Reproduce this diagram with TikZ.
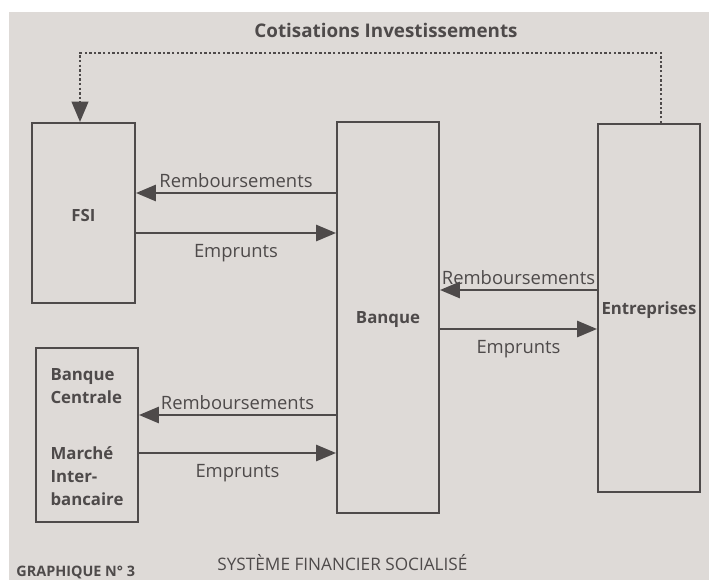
\documentclass[tikz,border=0pt]{standalone}
\usepackage{fontspec}
\setmainfont{Open Sans}
\usetikzlibrary{arrows,fit}
\definecolor{papier}{RGB}{222,218,215}
\definecolor{encre}{RGB}{78,74,74}
\tikzset{
  texte/.style = {text=encre, inner sep=2pt,
    font=\fontsize{9.2}{11}\selectfont},
  boite/.style = {draw=encre, line width=1.1pt, inner sep=0pt},% case du schema
  nom/.style = {text=encre, align=left, yshift=-1pt,
    font=\fontsize{8.4}{11.5}\selectfont\bfseries},% texte d'une case
  flux/.style = {draw=encre, line width=1.3pt},% fleche pleine
  cotis/.style = {draw=encre, line width=1.35pt,
    dash pattern=on 1.2pt off 1.1pt}% fleche pointillee
}

\begin{document}
\begin{tikzpicture}[->,>=triangle 45, x=0.5pt, y=-0.5pt]
\useasboundingbox (0,0) rectangle (709,580);
\fill[white] (0,0) rectangle (709,580);
\fill[papier] (9,12) rectangle (709,580);

% les cases
\node [boite, fit={(32,123) (135,303)},
  label={[nom]center:FSI}] (fsi) {};
\node [boite, fit={(337,122) (439,513)},
  label={[nom]center:Banque}] (banque) {};
\node [boite, fit={(598,124) (700,492)},
  label={[nom]center:Entreprises}] (entr) {};
\node [boite, fit={(36,348) (138,522)},
  label={[nom]center:Banque\\Centrale\\[16.5pt]Marché\\Inter-\\bancaire}] (bc) {};

% cotisations
\coordinate (cg) at (80,53);
\coordinate (cd) at (661,53);
\draw [cotis] (cd |- entr.north) -- (cd) -- (cg) -- (cg |- fsi.north);
\node [texte, font=\fontsize{9.4}{11}\selectfont\bfseries] (titre) at (386,30)
  {Cotisations Investissements};

% FSI <-> Banque
\draw [flux] (banque.west |- 0,193) -- (fsi.east |- 0,193)
  node [texte, midway, above] (r1) {Remboursements};
\draw [flux] (fsi.east |- 0,233) -- (banque.west |- 0,233)
  node [texte, midway, below=3pt] (e1) {Emprunts};

% Banque <-> Entreprises
\draw [flux] (entr.west |- 0,290) -- (banque.east |- 0,290)
  node [texte, midway, above] (r2) {Remboursements};
\draw [flux] (banque.east |- 0,329) -- (entr.west |- 0,329)
  node [texte, midway, below=3pt] (e2) {Emprunts};

% Banque Centrale <-> Banque
\draw [flux] (banque.west |- 0,415) -- (bc.east |- 0,415)
  node [texte, midway, above] (r3) {Remboursements};
\draw [flux] (bc.east |- 0,453) -- (banque.west |- 0,453)
  node [texte, midway, below=3pt] (e3) {Emprunts};

% legende
\node [texte, anchor=west, font=\fontsize{7.2}{9}\selectfont\bfseries] (num)
  at (12,572) {GRAPHIQUE N° 3};
\node [texte, anchor=west, font=\fontsize{8.6}{10}\selectfont] (leg)
  at (213,563) {SYSTÈME FINANCIER SOCIALISÉ};
\end{tikzpicture}
\end{document}
